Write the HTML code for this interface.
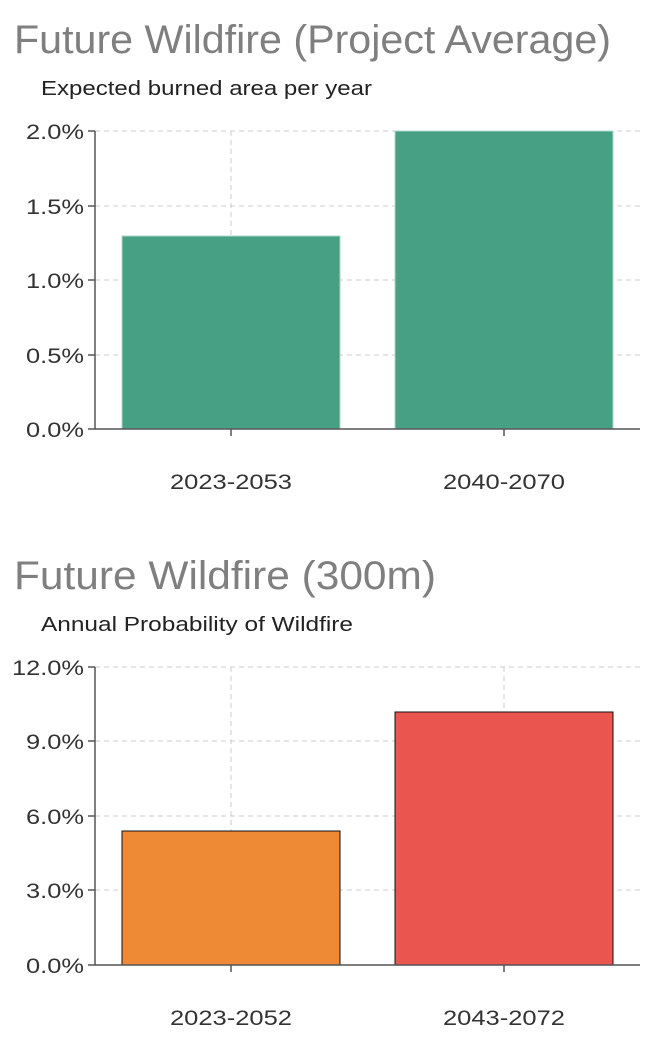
<!DOCTYPE html>
<html><head><style>
html,body{margin:0;padding:0;background:#fff;width:664px;height:1056px;overflow:hidden}
svg{display:block}
</style></head><body>
<svg width="664" height="1056" xmlns="http://www.w3.org/2000/svg" font-family="Liberation Sans, sans-serif">
<text x="14" y="53" font-size="40" fill="#7f7f7f" textLength="597" lengthAdjust="spacingAndGlyphs">Future Wildfire (Project Average)</text>
<text x="41" y="95" font-size="20" fill="#222" textLength="331" lengthAdjust="spacingAndGlyphs">Expected burned area per year</text>
<g stroke="#ccc" stroke-dasharray="5,4" stroke-width="1">
<line x1="95" y1="131" x2="640" y2="131"/><line x1="95" y1="206" x2="640" y2="206"/><line x1="95" y1="280" x2="640" y2="280"/><line x1="95" y1="355" x2="640" y2="355"/>
<line x1="231" y1="131" x2="231" y2="429"/><line x1="504" y1="131" x2="504" y2="429"/>
</g>
<rect x="122" y="236" width="218" height="193" fill="#48a084" stroke="#a8d8c8" stroke-width="1"/>
<rect x="395" y="131" width="218" height="298" fill="#48a084" stroke="#a8d8c8" stroke-width="1"/>
<g stroke="#555" stroke-width="1.5">
<line x1="95" y1="131" x2="95" y2="429"/><line x1="95" y1="429" x2="640" y2="429"/>
<line x1="88" y1="131" x2="95" y2="131"/><line x1="88" y1="206" x2="95" y2="206"/><line x1="88" y1="280" x2="95" y2="280"/><line x1="88" y1="355" x2="95" y2="355"/><line x1="88" y1="429" x2="95" y2="429"/>
<line x1="231" y1="429" x2="231" y2="436"/><line x1="504" y1="429" x2="504" y2="436"/>
</g>
<g font-size="21" fill="#333" text-anchor="end">
<text x="84" y="139" textLength="58" lengthAdjust="spacingAndGlyphs">2.0%</text><text x="84" y="214" textLength="58" lengthAdjust="spacingAndGlyphs">1.5%</text><text x="84" y="288" textLength="58" lengthAdjust="spacingAndGlyphs">1.0%</text><text x="84" y="363" textLength="58" lengthAdjust="spacingAndGlyphs">0.5%</text><text x="84" y="437" textLength="58" lengthAdjust="spacingAndGlyphs">0.0%</text>
</g>
<g font-size="21" fill="#333" text-anchor="middle">
<text x="231" y="489" textLength="122" lengthAdjust="spacingAndGlyphs">2023-2053</text><text x="504" y="489" textLength="122" lengthAdjust="spacingAndGlyphs">2040-2070</text>
</g>

<text x="14" y="589" font-size="40" fill="#7f7f7f" textLength="422" lengthAdjust="spacingAndGlyphs">Future Wildfire (300m)</text>
<text x="41" y="631" font-size="20" fill="#222" textLength="312" lengthAdjust="spacingAndGlyphs">Annual Probability of Wildfire</text>
<g stroke="#ccc" stroke-dasharray="5,4" stroke-width="1">
<line x1="95" y1="667" x2="640" y2="667"/><line x1="95" y1="741" x2="640" y2="741"/><line x1="95" y1="816" x2="640" y2="816"/><line x1="95" y1="890" x2="640" y2="890"/>
<line x1="231" y1="667" x2="231" y2="965"/><line x1="504" y1="667" x2="504" y2="965"/>
</g>
<rect x="122" y="831" width="218" height="134" fill="#ee8936" stroke="#111" stroke-width="1"/>
<rect x="395" y="712" width="218" height="253" fill="#ea5550" stroke="#111" stroke-width="1"/>
<g stroke="#555" stroke-width="1.5">
<line x1="95" y1="667" x2="95" y2="965"/><line x1="95" y1="965" x2="640" y2="965"/>
<line x1="88" y1="667" x2="95" y2="667"/><line x1="88" y1="741" x2="95" y2="741"/><line x1="88" y1="816" x2="95" y2="816"/><line x1="88" y1="890" x2="95" y2="890"/><line x1="88" y1="965" x2="95" y2="965"/>
<line x1="231" y1="965" x2="231" y2="972"/><line x1="504" y1="965" x2="504" y2="972"/>
</g>
<g font-size="21" fill="#333" text-anchor="end">
<text x="84" y="675" textLength="72" lengthAdjust="spacingAndGlyphs">12.0%</text><text x="84" y="749" textLength="58" lengthAdjust="spacingAndGlyphs">9.0%</text><text x="84" y="824" textLength="58" lengthAdjust="spacingAndGlyphs">6.0%</text><text x="84" y="898" textLength="58" lengthAdjust="spacingAndGlyphs">3.0%</text><text x="84" y="973" textLength="58" lengthAdjust="spacingAndGlyphs">0.0%</text>
</g>
<g font-size="21" fill="#333" text-anchor="middle">
<text x="231" y="1025" textLength="122" lengthAdjust="spacingAndGlyphs">2023-2052</text><text x="504" y="1025" textLength="122" lengthAdjust="spacingAndGlyphs">2043-2072</text>
</g>
</svg>
</body></html>
